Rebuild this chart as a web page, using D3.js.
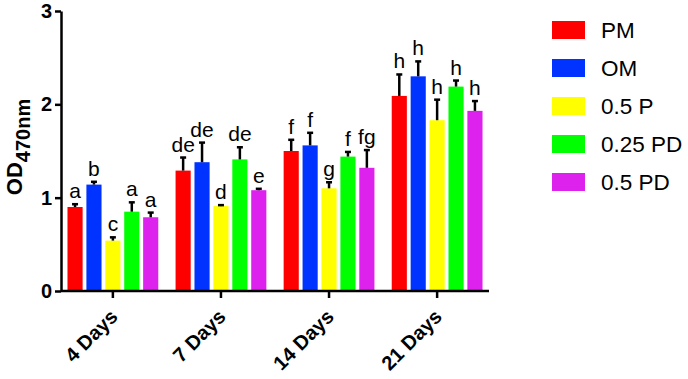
<!DOCTYPE html>
<html lang="en">
<head>
    <meta charset="utf-8">
    <title>OD470nm bar chart</title>
    <script src="https://cdn.jsdelivr.net/npm/d3@7"></script>
    <style type="text/css">
        body { margin: 0; background: #fff; }
        text { font-family: "Liberation Sans", Arial, sans-serif; }
    </style>
</head>
<body>
<script type="text/javascript">

    var days = ["4 Days", "7 Days", "14 Days", "21 Days"];
    var groups = ["PM", "OM", "0.5 P", "0.25 PD", "0.5 PD"];
    var colors = ["#ff0000", "#0033ff", "#ffff00", "#00ff00", "#dd22ee"];

    // mean per group, one array per day
    var means = [
        [0.90, 1.14, 0.54, 0.85, 0.79],
        [1.29, 1.38, 0.91, 1.41, 1.08],
        [1.50, 1.56, 1.10, 1.44, 1.32],
        [2.09, 2.30, 1.83, 2.19, 1.93]
    ];
    // upper error (SD)
    var errors = [
        [0.03, 0.03, 0.035, 0.10, 0.05],
        [0.14, 0.21, 0.01, 0.13, 0.015],
        [0.12, 0.135, 0.065, 0.05, 0.19],
        [0.23, 0.16, 0.22, 0.065, 0.105]
    ];
    var letters = [
        ["a", "b", "c", "a", "a"],
        ["de", "de", "d", "de", "e"],
        ["f", "f", "g", "f", "fg"],
        ["h", "h", "h", "h", "h"]
    ];
    var yTicks = [0, 1, 2, 3];

    var width = 688, height = 379;

    var svg = d3.select("body")
        .append("svg")
        .attr("width", width)
        .attr("height", height);

    var x0 = d3.scaleBand()
        .domain(days)
        .range([61, 489])
        .paddingInner(0.16)
        .paddingOuter(0.06);

    var x1 = d3.scaleBand()
        .domain(groups)
        .range([0, x0.bandwidth()])
        .paddingInner(0.2);

    var y = d3.scaleLinear()
        .domain([0, 3])
        .range([291, 11]);

    var color = d3.scaleOrdinal().domain(groups).range(colors);

    var rows = [];
    days.forEach(function (d, i) {
        groups.forEach(function (g, j) {
            rows.push({day: d, group: g, mean: means[i][j], err: errors[i][j], letter: letters[i][j]});
        });
    });

    var bar = svg.append("g").selectAll("g")
        .data(rows)
        .enter()
        .append("g")
        .attr("transform", function (d) {
            return "translate(" + (x0(d.day) + x1(d.group)) + ",0)";
        });

    bar.append("rect")
        .attr("x", 0)
        .attr("y", function (d) { return y(d.mean); })
        .attr("width", x1.bandwidth())
        .attr("height", function (d) { return y(0) - y(d.mean); })
        .attr("fill", function (d) { return color(d.group); });

    var cx = x1.bandwidth() / 2;

    bar.append("line")
        .attr("x1", cx).attr("x2", cx)
        .attr("y1", function (d) { return y(d.mean); })
        .attr("y2", function (d) { return y(d.mean + d.err); })
        .attr("stroke", "#000")
        .attr("stroke-width", 2.5);

    bar.append("line")
        .attr("x1", cx - 3).attr("x2", cx + 3)
        .attr("y1", function (d) { return y(d.mean + d.err); })
        .attr("y2", function (d) { return y(d.mean + d.err); })
        .attr("stroke", "#000")
        .attr("stroke-width", 2.5);

    bar.append("text")
        .attr("x", cx)
        .attr("y", function (d) { return y(d.mean + d.err) - 6; })
        .attr("text-anchor", "middle")
        .attr("font-size", "21px")
        .attr("fill", "#000")
        .text(function (d) { return d.letter; });

    // y axis
    var yAxis = svg.append("g")
        .attr("transform", "translate(61,0)")
        .call(d3.axisLeft(y).tickValues(yTicks).tickFormat(d3.format("d")).tickSize(6).tickSizeOuter(0));
    yAxis.select(".domain").attr("stroke-width", 2.5);
    yAxis.selectAll(".tick line").attr("stroke-width", 2.5);
    yAxis.selectAll(".tick text")
        .attr("font-family", "Liberation Sans, Arial, sans-serif")
        .attr("font-size", "20px")
        .attr("font-weight", "bold")
        .attr("fill", "#000")
        .attr("x", -9);

    // x axis
    var xAxis = svg.append("g")
        .attr("transform", "translate(0,291)")
        .call(d3.axisBottom(x0).tickSize(7).tickSizeOuter(0));
    xAxis.select(".domain").attr("stroke-width", 2.5)
        .attr("d", "M61,0H489");
    xAxis.selectAll(".tick line").attr("stroke-width", 2.5);
    xAxis.selectAll(".tick text")
        .attr("font-family", "Liberation Sans, Arial, sans-serif")
        .attr("font-size", "20px")
        .attr("font-weight", "bold")
        .attr("fill", "#000")
        .attr("text-anchor", "end")
        .attr("dy", null)
        .attr("transform", "translate(6,27) rotate(-45)")
        .attr("x", 0).attr("y", 0);

    // y axis title
    var title = svg.append("text")
        .attr("transform", "translate(22,147) rotate(-90)")
        .attr("text-anchor", "middle")
        .attr("font-weight", "bold")
        .attr("font-size", "22px")
        .attr("fill", "#000");
    title.append("tspan").text("OD");
    title.append("tspan").attr("font-size", "20px").attr("dy", 8).text("470nm");

    // legend
    var legend = svg.append("g").selectAll("g")
        .data(groups)
        .enter()
        .append("g")
        .attr("transform", function (d, i) { return "translate(552," + (21 + i * 38) + ")"; });

    legend.append("rect")
        .attr("width", 33)
        .attr("height", 18)
        .attr("fill", function (d) { return color(d); });

    legend.append("text")
        .attr("x", 49)
        .attr("y", 17)
        .attr("font-size", "22.5px")
        .attr("fill", "#000")
        .text(function (d) { return d; });

</script>
</body>
</html>
